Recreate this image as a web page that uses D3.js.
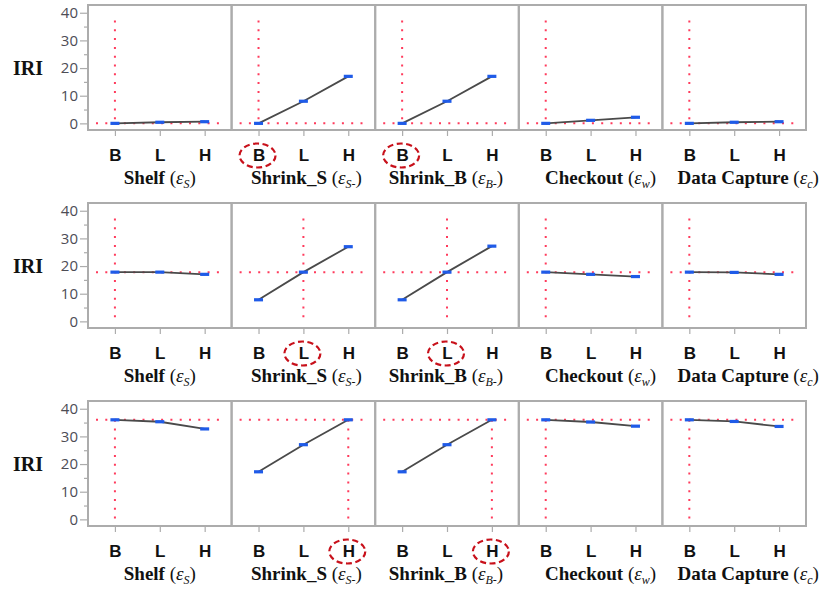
<!DOCTYPE html>
<html>
<head>
<meta charset="utf-8">
<script src="https://cdn.jsdelivr.net/npm/d3@7/dist/d3.min.js"></script>
<style>
  html, body { margin: 0; padding: 0; background: #fff; }
  svg { display: block; }
</style>
</head>
<body>
<script>
// ---------- DATA ----------
const factors = ["Shelf", "Shrink_S", "Shrink_B", "Checkout", "Data Capture"];
const factorSubs = ["S", "S-", "B-", "w", "c"];
const levels = ["B", "L", "H"];
const selectedLevel = ["B", "L", "H"];      // level of the shrink factors per profiler row
const baseLevel = "B";                      // level of the other factors
const currentIRI = [0, 17.8, 36];           // horizontal reference per row
const circledFactors = ["Shrink_S", "Shrink_B"];
const yTicks = [0, 10, 20, 30, 40];
const yMinorTicks = [5, 15, 25, 35];

const row1Values = [
  [0, 0.4, 0.6],
  [0, 8, 17],
  [0, 8, 17],
  [0, 1.1, 2.2],
  [0, 0.4, 0.6]
];
const row2Values = [
  [17.8, 17.8, 17.0],
  [7.8, 17.8, 27.0],
  [7.8, 17.8, 27.2],
  [17.8, 17.0, 16.2],
  [17.8, 17.7, 17.0]
];
const row3Values = [
  [36, 35.3, 32.7],
  [17.2, 27, 36],
  [17.2, 27, 36],
  [36, 35.2, 33.7],
  [36, 35.4, 33.6]
];
const rowValues = [row1Values, row2Values, row3Values];

// ---------- LAYOUT ----------
const W = 827, H = 593;
const frameLeft = 88, panelW = 143.6, frameH = 125;
const rowTops = [5, 203, 401];
const titleDx = [0, 3, -1, 10, 14];

const svg = d3.select("body").append("svg").attr("width", W).attr("height", H);

const x = d3.scalePoint().domain(levels).range([0, panelW]).padding(0.6);
const gridGray = "#acacac";
const red = "#ff3b5c";
const blue = "#1f5be8";

rowValues.forEach((vals, r) => {
  const top = rowTops[r];
  const y = d3.scaleLinear().domain([-2.4, 42.8]).range([top + frameH, top]);
  const g = svg.append("g");

  // y axis
  const yAxis = d3.axisLeft(y).tickValues(yTicks).tickSize(8).tickPadding(2);
  const ya = g.append("g").attr("transform", `translate(${frameLeft},0)`).call(yAxis);
  ya.select(".domain").remove();
  ya.selectAll(".tick line").attr("stroke", gridGray).attr("stroke-width", 1.2);
  ya.selectAll(".tick text")
    .attr("fill", "#4d4d55")
    .style("font-family", "'Open Sans', sans-serif")
    .style("font-size", "15px");
  const yMinor = d3.axisLeft(y).tickValues(yMinorTicks).tickSize(4).tickFormat("");
  const ym = g.append("g").attr("transform", `translate(${frameLeft},0)`).call(yMinor);
  ym.select(".domain").remove();
  ym.selectAll(".tick line").attr("stroke", gridGray).attr("stroke-width", 1.2);

  // IRI label
  g.append("text")
    .attr("x", 28).attr("y", y(20) + 7)
    .attr("text-anchor", "middle")
    .style("font-family", "'Liberation Serif', 'Times New Roman', serif")
    .style("font-weight", "bold")
    .style("font-size", "20px")
    .attr("fill", "#111")
    .text("IRI");

  factors.forEach((f, i) => {
    const px = frameLeft + i * panelW;
    const pg = g.append("g").attr("transform", `translate(${px},0)`);
    const isShrink = circledFactors.includes(f);
    const sel = isShrink ? selectedLevel[r] : baseLevel;

    // frame
    pg.append("rect")
      .attr("x", 0).attr("y", top)
      .attr("width", panelW).attr("height", frameH)
      .attr("fill", "none").attr("stroke", gridGray).attr("stroke-width", 2);

    // x axis ticks + labels
    const xAxis = d3.axisBottom(x).tickSize(6);
    const xa = pg.append("g").attr("transform", `translate(0,${top + frameH})`).call(xAxis);
    xa.select(".domain").remove();
    xa.selectAll(".tick line").attr("stroke", gridGray).attr("stroke-width", 1.2);
    xa.selectAll(".tick text")
      .attr("fill", "#111")
      .attr("y", 0).attr("dy", 0)
      .attr("transform", "translate(0,30.5)")
      .style("font-family", "'Liberation Sans', Arial, sans-serif")
      .style("font-weight", "bold")
      .style("font-size", "17px");

    // reference dotted lines
    pg.append("line")
      .attr("x1", 8).attr("x2", panelW - 11)
      .attr("y1", y(currentIRI[r])).attr("y2", y(currentIRI[r]))
      .attr("stroke", red).attr("stroke-width", 2)
      .attr("stroke-dasharray", "2 7.3");
    const vTop = currentIRI[r] >= 30 ? currentIRI[r] : 37.2;
    pg.append("line")
      .attr("x1", x(sel)).attr("x2", x(sel))
      .attr("y1", y(vTop)).attr("y2", y(0))
      .attr("stroke", red).attr("stroke-width", 2)
      .attr("stroke-dasharray", "2 6.8");

    // profile line
    const pts = levels.map((l, k) => [x(l), y(vals[i][k])]);
    pg.append("path")
      .attr("d", d3.line()(pts))
      .attr("fill", "none").attr("stroke", "#4a4a4a").attr("stroke-width", 1.8);

    // markers
    pg.selectAll("rect.pt").data(levels).enter().append("rect")
      .attr("class", "pt")
      .attr("x", l => x(l) - 4.5).attr("y", (l, k) => y(vals[i][k]) - 1.6)
      .attr("width", 9).attr("height", 3.2)
      .attr("fill", blue);

    // circled selected level
    if (isShrink) {
      pg.append("ellipse")
        .attr("cx", x(sel) - 1).attr("cy", top + frameH + 25.5)
        .attr("rx", 18).attr("ry", 12)
        .attr("fill", "none").attr("stroke", "#c8101a").attr("stroke-width", 2.2)
        .attr("stroke-dasharray", "6 3.5");
    }

    // title
    const t = pg.append("text")
      .attr("x", panelW / 2 + titleDx[i]).attr("y", top + frameH + 54)
      .attr("text-anchor", "middle")
      .style("font-family", "'Liberation Serif', 'Times New Roman', serif")
      .style("font-size", "19px")
      .attr("fill", "#111");
    t.append("tspan").style("font-weight", "bold").text(f + " ");
    t.append("tspan").text("(");
    t.append("tspan").style("font-style", "italic").text("ε");
    t.append("tspan").style("font-style", "italic").style("font-size", "12px")
      .attr("dy", 4).text(factorSubs[i]);
    t.append("tspan").attr("dy", -4).text(")");
  });
});
</script>
</body>
</html>
